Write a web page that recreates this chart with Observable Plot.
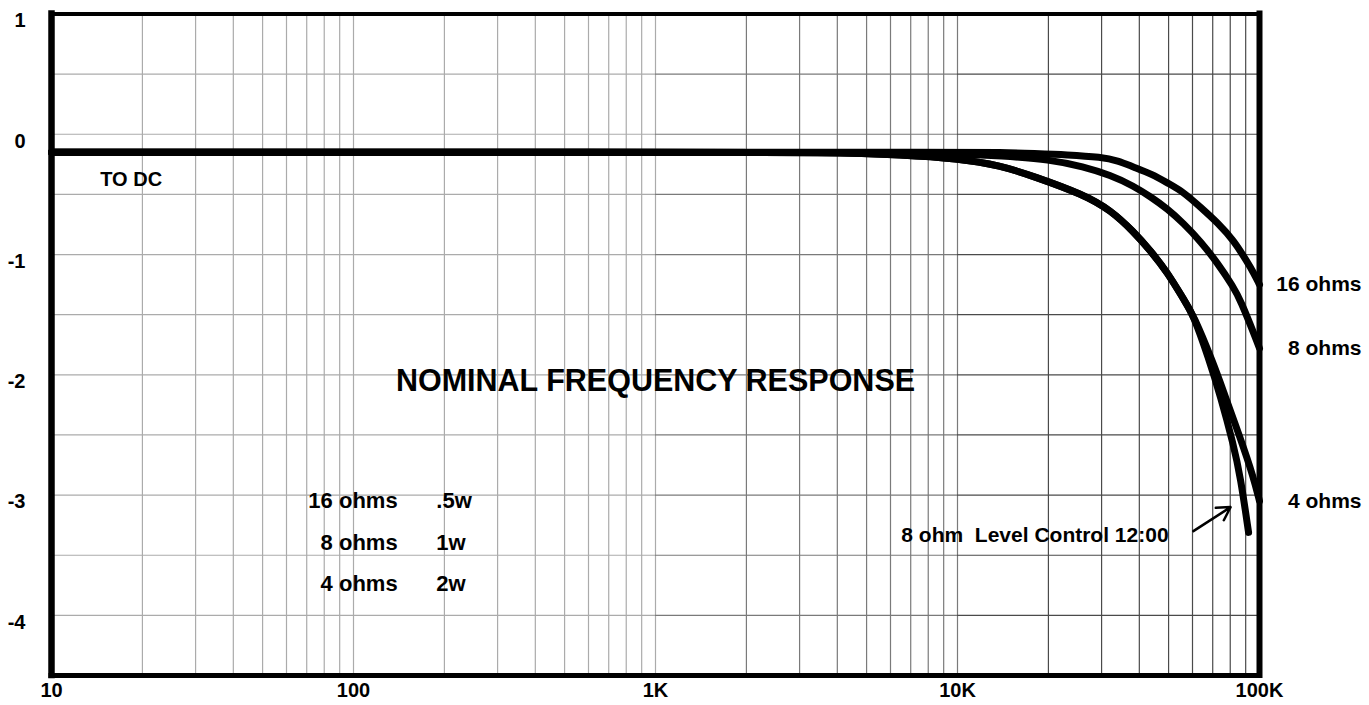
<!DOCTYPE html>
<html>
<head>
<meta charset="utf-8">
<script src="https://cdn.jsdelivr.net/npm/d3@7"></script>
<script src="https://cdn.jsdelivr.net/npm/@observablehq/plot@0.6"></script>
<style>
  html, body { margin: 0; padding: 0; background: #fff; }
  #chart svg { display: block; }
</style>
</head>
<body>
<div id="chart"></div>
<script>
// ---- data ----
const freq16 = [10, 1000, 10000, 14000, 18000, 23000, 30000, 34000, 38000, 44000, 50000, 56000, 64000, 73000, 82000, 91000, 95500, 100000];
const db16   = [-0.15, -0.15, -0.15, -0.15, -0.16, -0.17, -0.19, -0.22, -0.27, -0.33, -0.41, -0.48, -0.61, -0.74, -0.88, -1.06, -1.15, -1.25];

const freq8 = [10, 1000, 5000, 10000, 13900, 20300, 26100, 32100, 38300, 43600, 49600, 56000, 63800, 72600, 82000, 86500, 97000, 100000];
const db8   = [-0.15, -0.15, -0.15, -0.16, -0.18, -0.21, -0.27, -0.34, -0.43, -0.52, -0.62, -0.74, -0.89, -1.07, -1.27, -1.38, -1.69, -1.78];

const freq4 = [10, 1000, 4000, 6500, 10000, 13900, 17900, 26100, 32100, 38300, 43600, 49600, 56000, 60400, 70500, 76000, 86500, 95500, 100000];
const db4   = [-0.15, -0.15, -0.15, -0.17, -0.20, -0.26, -0.35, -0.50, -0.63, -0.81, -0.97, -1.15, -1.37, -1.50, -1.91, -2.14, -2.53, -2.85, -3.05];

const freqLevel = [10, 1000, 4000, 6500, 10000, 13900, 17900, 26100, 32100, 38300, 43600, 49600, 56000, 60400, 67800, 74300, 82000, 86500, 92000];
const dbLevel   = [-0.15, -0.15, -0.15, -0.17, -0.20, -0.26, -0.35, -0.50, -0.63, -0.81, -0.97, -1.15, -1.37, -1.50, -1.86, -2.18, -2.58, -2.85, -3.31];

const seriesNames = ["16 ohms", "8 ohms", "4 ohms", "8 ohm Level Control 12:00"];

const xTicks = [10, 100, 1000, 10000, 100000];
const xTickLabels = ["10", "100", "1K", "10K", "100K"];
const yTicks = [1, 0, -1, -2, -3, -4];
const yTickLabels = ["1", "0", "-1", "-2", "-3", "-4"];
const yGrid = [0.5, 0, -0.5, -1, -1.5, -2, -2.5, -3, -3.5, -4];
const decades = [10, 100, 1000, 10000];
const minorMultiples = [1, 2, 3, 4, 5, 6, 7, 8, 9];

const legendImpedance = ["16 ohms", "8 ohms", "4 ohms"];
const legendPower = [".5w", "1w", "2w"];
const legendDb = [-3.05, -3.40, -3.74];

const title = "NOMINAL FREQUENCY RESPONSE";
const noteDC = "TO DC";
const noteLevel = "8 ohm\u00a0 Level Control 12:00";

// ---- build tables ----
const seriesData = [
  {name: seriesNames[0], f: freq16, db: db16},
  {name: seriesNames[1], f: freq8, db: db8},
  {name: seriesNames[2], f: freq4, db: db4},
  {name: seriesNames[3], f: freqLevel, db: dbLevel}
];
const rows = seriesData.flatMap(s => s.f.map((f, i) => ({series: s.name, f, db: s.db[i]})));
const endLabels = seriesData.slice(0, 3).map(s => ({name: s.name, f: s.f[s.f.length - 1], db: s.db[s.db.length - 1]}));
const xGrid = decades.flatMap(d => minorMultiples.map(m => m * d)).filter(v => v > 10);
const legendRows = legendImpedance.map((t, i) => ({imp: t, pow: legendPower[i], db: legendDb[i]}));

// grid tone darkens toward the right, as in the scanned original
const gridColor = f => f <= 1000 ? "#ababab" : (f <= 10000 ? "#7a7a7a" : "#4a4a4a");
const gridBands = [[10, 1000], [1000, 10000], [10000, 100000]];
const hGrid = yGrid.flatMap(v => gridBands.map(([a, b]) => ({v, a, b, c: gridColor(b)})));

const font = "'Liberation Sans', Arial, Helvetica, sans-serif";

const chart = Plot.plot({
  width: 1369,
  height: 705,
  marginLeft: 51,
  marginRight: 110,
  marginTop: 13.5,
  marginBottom: 30,
  x: {type: "log", domain: [10, 100000], axis: null},
  y: {domain: [-4.5, 1], axis: null},
  style: {fontFamily: font, background: "#fff", color: "#000"},
  marks: [
    Plot.ruleX(xGrid, {stroke: d => gridColor(d), strokeWidth: 1.2}),
    Plot.ruleY(hGrid, {y: "v", x1: "a", x2: "b", stroke: "c", strokeWidth: 1.2}),
    Plot.line(rows, {x: "f", y: "db", z: "series", curve: "basis", stroke: "#000", strokeWidth: 7}),
    // frame
    Plot.ruleX([10], {stroke: "#000", strokeWidth: 6.5, strokeLinecap: "square"}),
    Plot.ruleX([100000], {stroke: "#000", strokeWidth: 6, strokeLinecap: "square"}),
    Plot.ruleY([1], {stroke: "#000", strokeWidth: 4, strokeLinecap: "square"}),
    Plot.ruleY([-4.5], {stroke: "#000", strokeWidth: 5, strokeLinecap: "square"}),
    // axis labels
    Plot.text(yTicks, {x: 10, y: d => d, text: (d, i) => yTickLabels[i], textAnchor: "end", dx: -26, dy: 7, fontSize: 20, fontWeight: "bold"}),
    Plot.text(xTicks, {x: d => d, y: -4.5, text: (d, i) => xTickLabels[i], dy: 15, fontSize: 20, fontWeight: "bold"}),
    // annotations
    Plot.text([noteDC], {x: 14.5, y: -0.38, text: d => d, textAnchor: "start", fontSize: 20, fontWeight: "bold"}),
    Plot.text([title], {x: 1000, y: -2.05, text: d => d, fontSize: 30.5, fontWeight: "bold"}),
    Plot.text(legendRows, {x: 140, y: "db", text: "imp", textAnchor: "end", fontSize: 22, fontWeight: "bold"}),
    Plot.text(legendRows, {x: 188, y: "db", text: "pow", textAnchor: "start", fontSize: 22, fontWeight: "bold"}),
    Plot.text(endLabels, {x: "f", y: "db", text: "name", textAnchor: "end", dx: 102, fontSize: 21, fontWeight: "bold"}),
    Plot.text([noteLevel], {x: 50000, y: -3.33, text: d => d, textAnchor: "end", fontSize: 21, fontWeight: "bold"}),
    Plot.arrow([{f1: 60400, d1: -3.30, f2: 80200, d2: -3.10}], {x1: "f1", y1: "d1", x2: "f2", y2: "d2", stroke: "#000", strokeWidth: 2.5, headLength: 10})
  ]
});
document.getElementById("chart").appendChild(chart);
</script>
</body>
</html>
